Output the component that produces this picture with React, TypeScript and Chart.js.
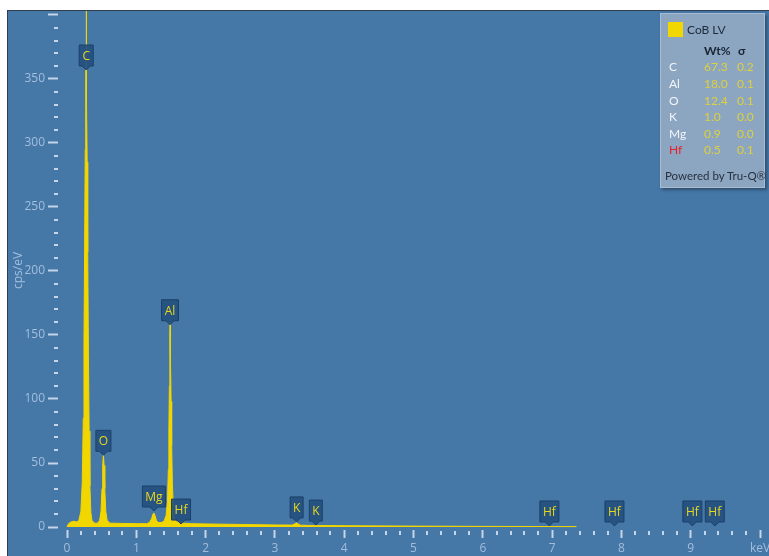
import React, { useEffect, useRef } from "react";
import { Chart, registerables } from "chart.js";

Chart.register(...registerables);

// EDS spectrum: energy (keV) and intensity (cps/eV)
const spectrumKeV = [
  0.0, 0.03, 0.06, 0.1, 0.14, 0.17, 0.2, 0.22, 0.235, 0.245, 0.255, 0.263, 0.27, 0.275, 0.277, 0.279,
  0.284, 0.291, 0.299, 0.309, 0.319, 0.33, 0.345, 0.36, 0.4, 0.44, 0.47, 0.49, 0.505, 0.515, 0.525,
  0.535, 0.545, 0.56, 0.58, 0.62, 0.8, 1.0, 1.15, 1.19, 1.22, 1.24, 1.254, 1.27, 1.29, 1.32, 1.36,
  1.4, 1.43, 1.45, 1.462, 1.47, 1.477, 1.482, 1.486, 1.488, 1.49, 1.495, 1.502, 1.51, 1.52, 1.535,
  1.555, 1.58, 1.62, 1.65, 1.68, 1.8, 2.0, 2.5, 3.0, 3.25, 3.29, 3.31, 3.33, 3.37, 3.55, 3.59, 3.63,
  4.0, 5.0, 6.0, 7.0, 7.35,
];
const spectrumCps = [
  0.5, 3, 4, 4.5, 4, 5, 12, 35, 85, 145, 225, 295, 340, 362, 440, 362,
  338, 285, 215, 135, 75, 32, 11, 5, 3, 3, 5, 12, 30, 48, 57,
  48, 30, 12, 5, 3, 2.8, 2.6, 2.6, 3.5, 6.5, 10, 11, 9, 5, 3.5, 3.5,
  4.5, 9, 20, 45, 75, 110, 138, 150, 160, 150, 132, 98, 64, 34, 14,
  6, 4, 3.5, 3.5, 3, 2.6, 2.4, 2, 1.6, 1.5, 2.5, 3.5, 2.5, 1.4, 1.2, 1.3, 1.2,
  1.0, 0.7, 0.5, 0.35, 0.3,
];

// Element line markers
const markerLabels = ["C", "O", "Mg", "Al", "Hf", "K", "K", "Hf", "Hf", "Hf", "Hf"];
const markerKeV = [0.277, 0.525, 1.254, 1.486, 1.645, 3.313, 3.59, 6.96, 7.899, 9.023, 9.347];
const markerCps = [357, 56, 12.5, 158, 2.3, 4, 1.5, 0.8, 0.8, 0.8, 0.8];

// Axis ticks
const xTickValues = Array.from({ length: 51 }, (_, i) => Math.round(i * 2) / 10);
const yTickValues = Array.from({ length: 41 }, (_, i) => i * 10);

// Quantification table
const quantElements = ["C", "Al", "O", "K", "Mg", "Hf"];
const quantWt = ["67.3", "18.0", "12.4", "1.0", "0.9", "0.5"];
const quantSigma = ["0.2", "0.1", "0.1", "0.0", "0.0", "0.1"];
const seriesName = "CoB LV";

const BG = "#4577a7";
const SPECTRUM = "#f2d600";
const LABEL = "#a3bedd";
const TICK = "#c6d5e8";
const FONT = "'Open Sans', 'Noto Sans', sans-serif";
const LEGEND_FONT = "Lato, 'Noto Sans', sans-serif";

const isMajorX = (v: number) => Math.abs(v - Math.round(v)) < 1e-6;

const backgroundPlugin = {
  id: "panelBackground",
  beforeDraw(chart: any) {
    const { ctx, width, height } = chart;
    ctx.save();
    ctx.fillStyle = BG;
    ctx.fillRect(0, 0, width, height);
    ctx.fillStyle = "#2f3d4c";
    ctx.fillRect(0, 0, width, 1);
    ctx.fillRect(0, 0, 1, height);
    ctx.restore();
  },
};

const minorTicksPlugin = {
  id: "minorTicks",
  afterDraw(chart: any) {
    const { ctx, chartArea } = chart;
    const xs = chart.scales.x;
    const ys = chart.scales.y;
    ctx.save();
    ctx.strokeStyle = TICK;
    ctx.lineWidth = 2;
    ctx.beginPath();
    for (const v of yTickValues) {
      if (v % 50 === 0) continue;
      const y = Math.round(ys.getPixelForValue(v));
      ctx.moveTo(chartArea.left - 4, y);
      ctx.lineTo(chartArea.left, y);
    }
    for (const v of xTickValues) {
      if (isMajorX(v)) continue;
      const x = Math.round(xs.getPixelForValue(v));
      ctx.moveTo(x, chartArea.bottom + 1);
      ctx.lineTo(x, chartArea.bottom + 5);
    }
    ctx.stroke();
    ctx.restore();
  },
};

const markerPlugin = {
  id: "lineMarkers",
  afterDraw(chart: any) {
    const { ctx } = chart;
    const xs = chart.scales.x;
    const ys = chart.scales.y;
    ctx.save();
    ctx.font = `12px ${FONT}`;
    ctx.textAlign = "center";
    ctx.textBaseline = "middle";
    markerLabels.forEach((label, i) => {
      const x = xs.getPixelForValue(markerKeV[i]);
      const tip = ys.getPixelForValue(markerCps[i]);
      const w = Math.round(ctx.measureText(label).width + 6);
      const h = 21;
      const bottom = tip - 4;
      const top = bottom - h;
      const left = x - w / 2;
      ctx.beginPath();
      ctx.moveTo(left, top);
      ctx.lineTo(left + w, top);
      ctx.lineTo(left + w, bottom);
      ctx.lineTo(x + 4, bottom);
      ctx.lineTo(x, tip);
      ctx.lineTo(x - 4, bottom);
      ctx.lineTo(left, bottom);
      ctx.closePath();
      ctx.fillStyle = "rgba(36,80,126,0.92)";
      ctx.fill();
      ctx.strokeStyle = "#1c4169";
      ctx.lineWidth = 1;
      ctx.stroke();
      ctx.fillStyle = "#e9d81c";
      ctx.fillText(label, x, top + h / 2 + 1);
    });
    ctx.restore();
  },
};

function QuantLegend() {
  const rowTops = [53, 70, 87, 103, 120, 136];
  const text: React.CSSProperties = {
    position: "absolute",
    fontFamily: LEGEND_FONT,
    fontSize: 12,
    lineHeight: "14px",
    whiteSpace: "nowrap",
  };
  return (
    <div
      style={{
        position: "absolute",
        left: 660,
        top: 13,
        width: 105,
        height: 175,
        background: "#8ca5c1",
        border: "1px solid #a9bcd2",
        boxSizing: "border-box",
        boxShadow: "2px 2px 3px rgba(0,0,0,0.35)",
      }}
    >
      <div style={{ position: "absolute", left: 7, top: 8, width: 15, height: 15, background: SPECTRUM }} />
      <span style={{ ...text, left: 26, top: 9, color: "#1d2a39" }}>{seriesName}</span>
      <span style={{ ...text, left: 43, top: 30, color: "#1a2533", fontWeight: 700 }}>Wt%</span>
      <span style={{ ...text, left: 77, top: 30, color: "#1a2533", fontWeight: 700 }}>σ</span>
      {quantElements.map((el, i) => (
        <React.Fragment key={i}>
          <span style={{ ...text, left: 8, top: rowTops[i] - 7, color: el === "Hf" ? "#e8202c" : "#f2f5f9" }}>{el}</span>
          <span style={{ ...text, left: 43, top: rowTops[i] - 7, color: "#ddd13e" }}>{quantWt[i]}</span>
          <span style={{ ...text, left: 76, top: rowTops[i] - 7, color: "#ddd13e" }}>{quantSigma[i]}</span>
        </React.Fragment>
      ))}
      <span style={{ ...text, left: 4, top: 155, fontSize: 11.5, color: "#27323f" }}>Powered by Tru-Q®</span>
    </div>
  );
}

export default function App() {
  const canvasRef = useRef<HTMLCanvasElement>(null);

  useEffect(() => {
    if (!canvasRef.current) return;
    const points = spectrumKeV.map((x, i) => ({ x, y: spectrumCps[i] }));
    const chart = new Chart(canvasRef.current, {
      type: "line",
      data: {
        datasets: [
          {
            label: seriesName,
            data: points,
            borderColor: SPECTRUM,
            backgroundColor: SPECTRUM,
            borderWidth: 1,
            pointRadius: 0,
            tension: 0,
            fill: "origin",
          },
        ],
      },
      options: {
        animation: false,
        responsive: false,
        maintainAspectRatio: false,
        layout: { padding: { top: 1, right: 2, left: 0, bottom: 0 } },
        plugins: { legend: { display: false }, tooltip: { enabled: false } },
        scales: {
          x: {
            type: "linear",
            min: -0.13,
            max: 10.1,
            afterBuildTicks: (s: any) => {
              s.ticks = xTickValues.map((value) => ({ value }));
            },
            afterFit: (s: any) => {
              s.height = 26;
              s.paddingLeft = 0;
              s.paddingRight = 0;
            },
            border: { display: false },
            grid: {
              drawOnChartArea: false,
              drawTicks: true,
              tickLength: 8,
              tickWidth: 2,
              tickColor: (c: any) => (c.tick && isMajorX(c.tick.value) ? TICK : "rgba(0,0,0,0)"),
            },
            ticks: {
              autoSkip: false,
              maxRotation: 0,
              padding: 3,
              color: LABEL,
              font: { family: FONT, size: 12 },
              callback: (v: any) => {
                const n = Number(v);
                if (!isMajorX(n)) return "";
                return Math.round(n) === 10 ? "keV" : String(Math.round(n));
              },
            },
          },
          y: {
            type: "linear",
            min: -2.34,
            max: 403.1,
            afterBuildTicks: (s: any) => {
              s.ticks = yTickValues.map((value) => ({ value }));
            },
            afterFit: (s: any) => {
              s.width = 51;
              s.paddingTop = 0;
              s.paddingBottom = 0;
            },
            border: { display: false },
            title: {
              display: true,
              text: "cps/eV",
              color: LABEL,
              font: { family: FONT, size: 12 },
              padding: { top: 4, bottom: 0 },
            },
            grid: {
              drawOnChartArea: false,
              drawTicks: true,
              tickLength: 10,
              tickWidth: 2,
              tickColor: (c: any) => (c.tick && c.tick.value % 50 === 0 ? TICK : "rgba(0,0,0,0)"),
            },
            ticks: {
              autoSkip: false,
              padding: 3,
              color: LABEL,
              font: { family: FONT, size: 12 },
              callback: (v: any) => {
                const n = Number(v);
                return n % 50 === 0 && n < 400 ? String(n) : "";
              },
            },
          },
        },
      },
      plugins: [backgroundPlugin, minorTicksPlugin, markerPlugin],
    });
    return () => chart.destroy();
  }, []);

  return (
    <div style={{ position: "fixed", left: 0, top: 0, width: 769, height: 556, background: "#ffffff", overflow: "hidden" }}>
      <canvas
        ref={canvasRef}
        width={762}
        height={546}
        style={{ position: "absolute", left: 7, top: 10, width: 762, height: 546 }}
      />
      <QuantLegend />
    </div>
  );
}
